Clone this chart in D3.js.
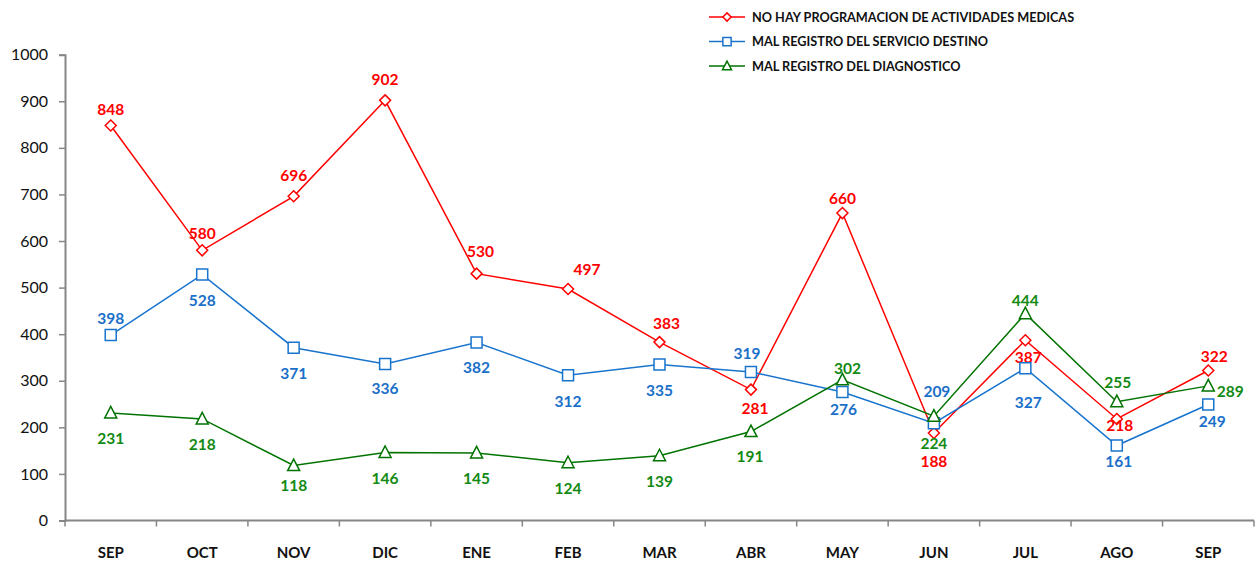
<!DOCTYPE html>
<html>
<head>
<meta charset="utf-8">
<script src="https://cdn.jsdelivr.net/npm/d3@7"></script>
<style>
  body { margin: 0; background: #fff; }
  svg { display: block; font-family: Lato, "Open Sans", sans-serif; }
</style>
</head>
<body>
<svg id="chart" width="1256" height="561"></svg>
<script>
// data
const months = ["SEP", "OCT", "NOV", "DIC", "ENE", "FEB", "MAR", "ABR", "MAY", "JUN", "JUL", "AGO", "SEP "];
const noProgramacion = [848, 580, 696, 902, 530, 497, 383, 281, 660, 188, 387, 218, 322];
const malServicio = [398, 528, 371, 336, 382, 312, 335, 319, 276, 209, 327, 161, 249];
const malDiagnostico = [231, 218, 118, 146, 145, 124, 139, 191, 302, 224, 444, 255, 289];
const yTicks = [0, 100, 200, 300, 400, 500, 600, 700, 800, 900, 1000];

// value label nudges (px from the marker), picked by eye to match the original placement
const redDx = [0, 0, 0, 0, 4, 19, 7, 4, 0, 0, 3, 3, 6];
const redDy = [-16, -17, -21, -21, -22, -19, -19, 19, -15, 29, 17, 7, -14];
const blueDx = [0, 0, 0, 0, 0, 0, 0, -4, 1, 3, 3, 2, 4];
const blueDy = [-17, 26, 26, 25, 25, 26, 26, -18, 18, -32, 34, 16, 17];
const greenDx = [0, 0, 0, 0, 0, 0, 0, -1, 5, 0, 0, 1, 22];
const greenDy = [26, 26, 20, 26, 26, 26, 26, 25, -11, 27, -13, -19, 6];

const series = [
  { name: "NO HAY PROGRAMACION DE ACTIVIDADES MEDICAS", values: noProgramacion, dx: redDx, dy: redDy,
    color: "#ff0000", label: "#ff0000", symbol: "diamond" },
  { name: "MAL REGISTRO DEL SERVICIO DESTINO", values: malServicio, dx: blueDx, dy: blueDy,
    color: "#1874cd", label: "#1a6fc9", symbol: "square" },
  { name: "MAL REGISTRO DEL DIAGNOSTICO", values: malDiagnostico, dx: greenDx, dy: greenDy,
    color: "#007300", label: "#138a13", symbol: "triangle" }
];

const svg = d3.select("#chart");
const plotLeft = 65, plotRight = 1254, plotTop = 54.7, plotBottom = 520.5;

const x = d3.scaleBand().domain(months).range([plotLeft, plotRight]);
const y = d3.scaleLinear().domain([0, 1000]).range([plotBottom, plotTop]);

const axisColor = "#868686";

// y axis
const yAxis = svg.append("g")
  .attr("transform", `translate(${plotLeft},0)`)
  .call(d3.axisLeft(y).tickValues(yTicks).tickFormat(d3.format("d")).tickSize(6).tickPadding(11));
yAxis.select(".domain").attr("stroke", axisColor).attr("stroke-width", 2);
yAxis.selectAll(".tick line").attr("stroke", axisColor).attr("stroke-width", 1.5);
yAxis.selectAll(".tick text").attr("font-size", 16).attr("fill", "#111")
  .attr("font-family", "Lato, sans-serif");

// x axis: ticks between categories
const xAxisG = svg.append("g").attr("transform", `translate(0,${plotBottom})`);
xAxisG.append("line").attr("x1", plotLeft).attr("x2", plotRight).attr("stroke", axisColor).attr("stroke-width", 2);
const bounds = months.map(m => x(m)).concat([plotRight]);
xAxisG.selectAll("line.tk").data(bounds).enter().append("line")
  .attr("class", "tk").attr("x1", d => d).attr("x2", d => d)
  .attr("y1", 0).attr("y2", 6).attr("stroke", axisColor).attr("stroke-width", 1.5);
xAxisG.selectAll("text").data(months).enter().append("text")
  .attr("x", d => x(d) + x.bandwidth() / 2).attr("y", 37)
  .attr("text-anchor", "middle").attr("font-size", 15).attr("font-weight", "bold")
  .attr("fill", "#111").text(d => d.trim());

const cx = (d, i) => x(months[i]) + x.bandwidth() / 2;

function markerPath(symbol) {
  if (symbol === "diamond") return "M0,-5.5L5.5,0L0,5.5L-5.5,0Z";
  if (symbol === "square") return "M-5.5,-5.5H5.5V5.5H-5.5Z";
  return "M0,-6.5L6,5H-6Z";
}

const line = d3.line().x(cx).y(d => y(d));

series.forEach(s => {
  const g = svg.append("g");
  g.append("path").datum(s.values)
    .attr("fill", "none").attr("stroke", s.color).attr("stroke-width", 1.5)
    .attr("d", line);
  g.selectAll("path.m").data(s.values).enter().append("path")
    .attr("class", "m")
    .attr("d", markerPath(s.symbol))
    .attr("transform", (d, i) => `translate(${cx(d, i)},${y(d)})`)
    .attr("fill", "#fff").attr("stroke", s.color).attr("stroke-width", 1.5);
  g.selectAll("text").data(s.values).enter().append("text")
    .attr("x", (d, i) => cx(d, i) + s.dx[i])
    .attr("y", (d, i) => y(d) + s.dy[i] + 5.5)
    .attr("text-anchor", "middle").attr("font-size", 15.5).attr("font-weight", "bold")
    .attr("fill", s.label).text(d => d);
});

// legend
const legend = svg.append("g").attr("transform", "translate(709,17)");
series.forEach((s, i) => {
  const row = legend.append("g").attr("transform", `translate(0,${i * 24.5})`);
  row.append("line").attr("x1", 0).attr("x2", 36).attr("stroke", s.color).attr("stroke-width", 1.5);
  row.append("path").attr("d", markerPath(s.symbol))
    .attr("transform", "translate(18,0) scale(0.75)")
    .attr("fill", "#fff").attr("stroke", s.color).attr("stroke-width", 2);
  row.append("text").attr("x", 43).attr("y", 4.5)
    .attr("font-size", 12.7).attr("font-weight", "bold").attr("fill", "#111").text(s.name);
});
</script>
</body>
</html>
